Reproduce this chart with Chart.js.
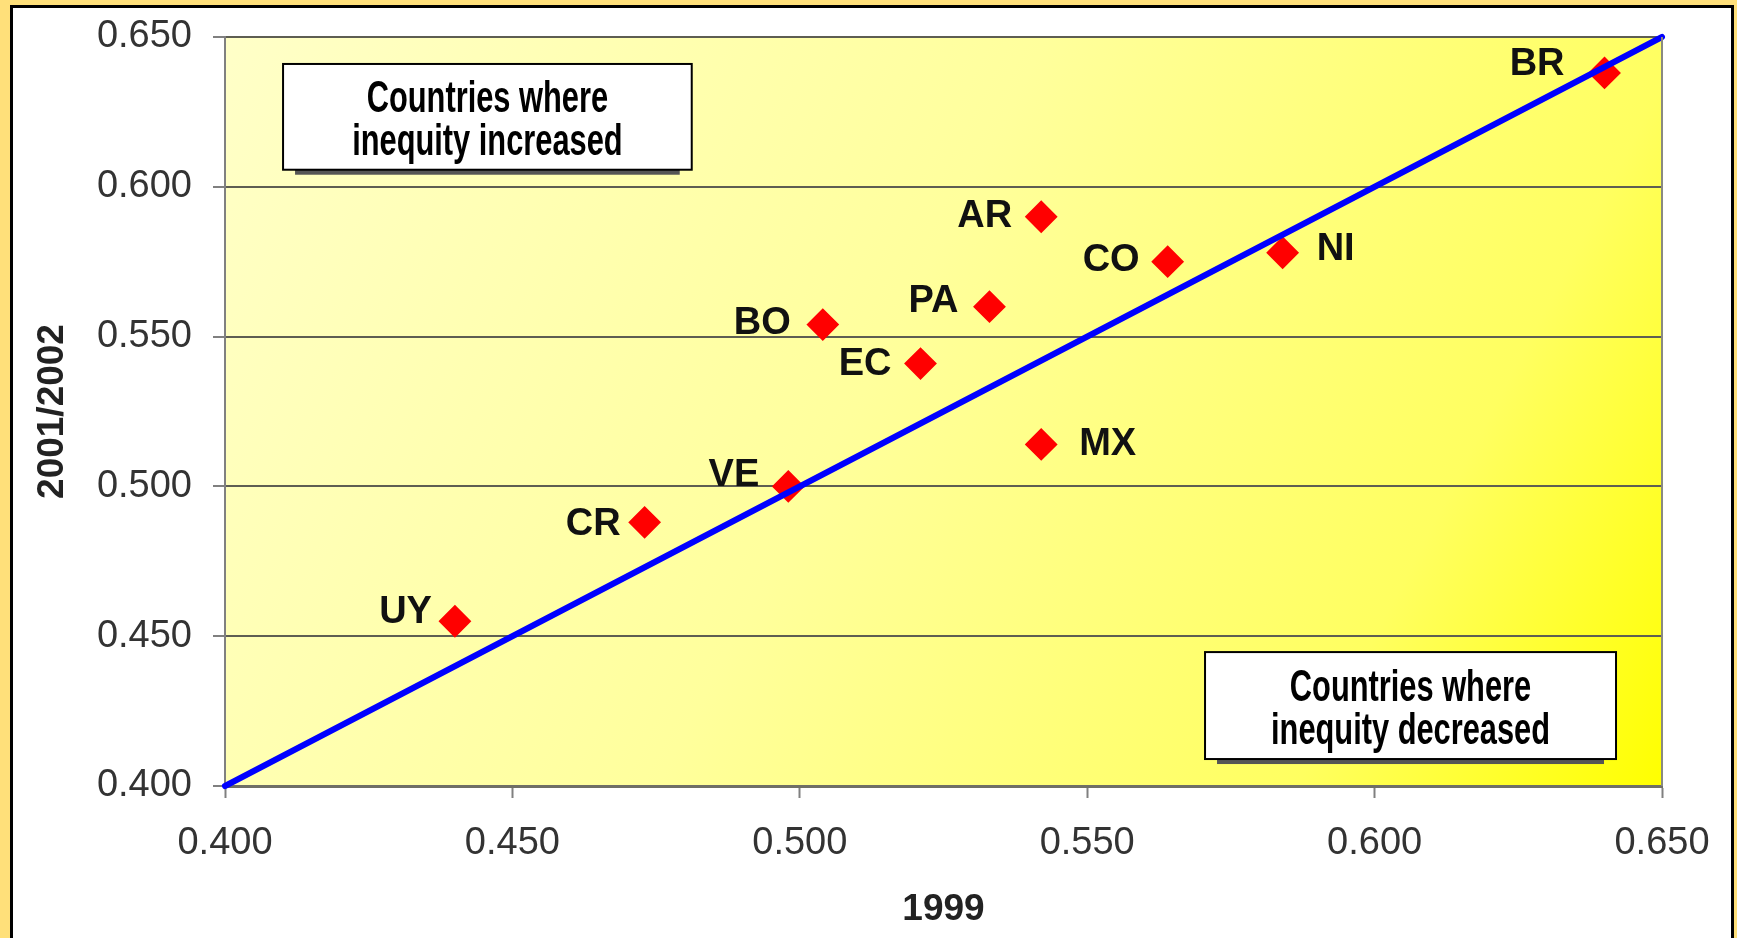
<!DOCTYPE html>
<html>
<head>
<meta charset="utf-8">
<script src="https://cdn.jsdelivr.net/npm/chart.js@4.4.1/dist/chart.umd.min.js"></script>
<style>
  html, body { margin: 0; padding: 0; width: 1737px; height: 938px; overflow: hidden; background: #ffe07a; }
  #frame { position: absolute; left: 10px; top: 5px; width: 1718px; height: 960px; border: 3px solid #000; background: #fff; }
  #chart { position: absolute; left: 0; top: 0; }
</style>
</head>
<body>
<div id="frame"></div>
<canvas id="chart" width="1737" height="938"></canvas>
<script>
// Gini by country: 1999 vs 2001/2002
var countries = ['BR', 'AR', 'CO', 'NI', 'PA', 'BO', 'EC', 'MX', 'VE', 'CR', 'UY'];
var gini1999  = [0.640, 0.542, 0.564, 0.584, 0.533, 0.504, 0.521, 0.542, 0.498, 0.473, 0.440];
var gini2001  = [0.638, 0.590, 0.575, 0.578, 0.560, 0.554, 0.541, 0.514, 0.500, 0.488, 0.455];
var axisTicks = [0.400, 0.450, 0.500, 0.550, 0.600, 0.650];
var equalityLine = [0.400, 0.650];

// label placement next to each marker (px from the point centre)
var labelOffset = {
    BR: [-40, -8], AR: [-29, 0], CO: [-28, -1], NI: [34, -3], PA: [-31, -5], BO: [-32, -1],
    EC: [-29, 1], MX: [38, 0], VE: [-29, -11], CR: [-24, 2], UY: [-23, -9]
};
var notes = [
    { lines: ['Countries where', 'inequity increased'], x0: 0.4101, x1: 0.4812, y0: 0.641, y1: 0.6057 },
    { lines: ['Countries where', 'inequity decreased'], x0: 0.5705, x1: 0.642, y0: 0.4447, y1: 0.409 }
];

var points = countries.map(function (c, i) { return { x: gini1999[i], y: gini2001[i] }; });
var diagonal = equalityLine.map(function (v) { return { x: v, y: v }; });

var tickFont = { family: 'Liberation Sans, Arial, sans-serif', size: 38 };
var titleFont = { family: 'Liberation Sans, Arial, sans-serif', size: 37, weight: 'bold' };

var plotBackground = {
    id: 'plotBackground',
    beforeDraw: function (chart) {
        var a = chart.chartArea, ctx = chart.ctx;
        var g = ctx.createLinearGradient(a.left, a.top, a.right, a.bottom);
        g.addColorStop(0, '#ffffc8');
        g.addColorStop(0.45, '#ffff9c');
        g.addColorStop(0.8, '#ffff60');
        g.addColorStop(1, '#ffff00');
        ctx.save();
        ctx.fillStyle = g;
        ctx.fillRect(a.left, a.top, a.right - a.left, a.bottom - a.top);
        ctx.restore();
    },
    afterDatasetsDraw: function (chart) {
        var a = chart.chartArea, ctx = chart.ctx;
        var xs = chart.scales.x, ys = chart.scales.y;
        ctx.save();
        // right edge of plot frame
        ctx.strokeStyle = '#8a8a80';
        ctx.lineWidth = 2;
        ctx.beginPath();
        ctx.moveTo(a.right, a.top);
        ctx.lineTo(a.right, a.bottom);
        ctx.stroke();

        // country labels
        ctx.font = 'bold 38px Liberation Sans, Arial, sans-serif';
        ctx.fillStyle = '#111';
        ctx.textBaseline = 'middle';
        countries.forEach(function (c, i) {
            var px = xs.getPixelForValue(gini1999[i]);
            var py = ys.getPixelForValue(gini2001[i]);
            var off = labelOffset[c];
            ctx.textAlign = off[0] < 0 ? 'right' : 'left';
            ctx.fillText(c, px + off[0], py + off[1]);
        });

        // annotation boxes
        notes.forEach(function (n) {
            var l = xs.getPixelForValue(n.x0), r = xs.getPixelForValue(n.x1);
            var t = ys.getPixelForValue(n.y0), b = ys.getPixelForValue(n.y1);
            ctx.fillStyle = '#555';
            ctx.fillRect(l + 12, b, r - l - 24, 5);
            ctx.fillStyle = '#fff';
            ctx.fillRect(l, t, r - l, b - t);
            ctx.strokeStyle = '#000';
            ctx.lineWidth = 2;
            ctx.strokeRect(l, t, r - l, b - t);
            ctx.fillStyle = '#000';
            ctx.font = 'bold 44px Liberation Sans, Arial, sans-serif';
            ctx.textAlign = 'center';
            ctx.textBaseline = 'middle';
            var cx = (l + r) / 2, cy = (t + b) / 2;
            // narrow face: squeeze a regular bold sans horizontally
            [[n.lines[0], cy - 17], [n.lines[1], cy + 26]].forEach(function (ln) {
                ctx.save();
                ctx.translate(cx, ln[1]);
                ctx.scale(0.70, 1);
                ctx.fillText(ln[0], 0, 0);
                ctx.restore();
            });
        });
        ctx.restore();
    }
};

var ctx = document.getElementById('chart').getContext('2d');
var chart = new Chart(ctx, {
    type: 'scatter',
    data: {
        datasets: [{
            type: 'line',
            data: diagonal,
            borderColor: '#0000ff',
            borderWidth: 6,
            borderCapStyle: 'round',
            pointRadius: 0,
            fill: false,
            clip: false,
            order: 1
        }, {
            data: points,
            pointStyle: 'rectRot',
            pointRadius: 15,
            backgroundColor: '#ff0000',
            borderColor: '#ff0000',
            borderWidth: 2,
            order: 2
        }]
    },
    options: {
        responsive: false,
        animation: false,
        layout: { autoPadding: false, padding: { top: 37, right: 75, left: 0, bottom: 0 } },
        plugins: { legend: { display: false }, tooltip: { enabled: false } },
        scales: {
            x: {
                type: 'linear',
                min: axisTicks[0],
                max: axisTicks[axisTicks.length - 1],
                afterBuildTicks: function (s) { s.ticks = axisTicks.map(function (v) { return { value: v }; }); },
                afterFit: function (s) { s.height = 152; },
                ticks: {
                    font: tickFont, color: '#333', padding: 23,
                    callback: function (v) { return v.toFixed(3); }
                },
                grid: { drawOnChartArea: false, drawTicks: true, tickLength: 12, tickWidth: 2, tickColor: '#808080' },
                border: { display: true, color: '#6f6f66', width: 3 },
                title: { display: true, text: '1999', font: titleFont, color: '#222', padding: { top: 0, bottom: 6 } }
            },
            y: {
                type: 'linear',
                min: axisTicks[0],
                max: axisTicks[axisTicks.length - 1],
                afterBuildTicks: function (s) { s.ticks = axisTicks.map(function (v) { return { value: v }; }); },
                afterFit: function (s) { s.width = 225; s.paddingTop = 0; s.paddingBottom = 0; },
                ticks: {
                    font: tickFont, color: '#333', padding: 21,
                    callback: function (v) { return v.toFixed(3); }
                },
                grid: { color: '#5e5e52', lineWidth: 2, tickLength: 12, tickWidth: 2, tickColor: '#808080' },
                border: { display: true, color: '#808080', width: 2 },
                title: { display: true, text: '2001/2002', font: titleFont, color: '#222', padding: { top: 31, bottom: 0 } }
            }
        }
    },
    plugins: [plotBackground]
});
</script>
</body>
</html>
